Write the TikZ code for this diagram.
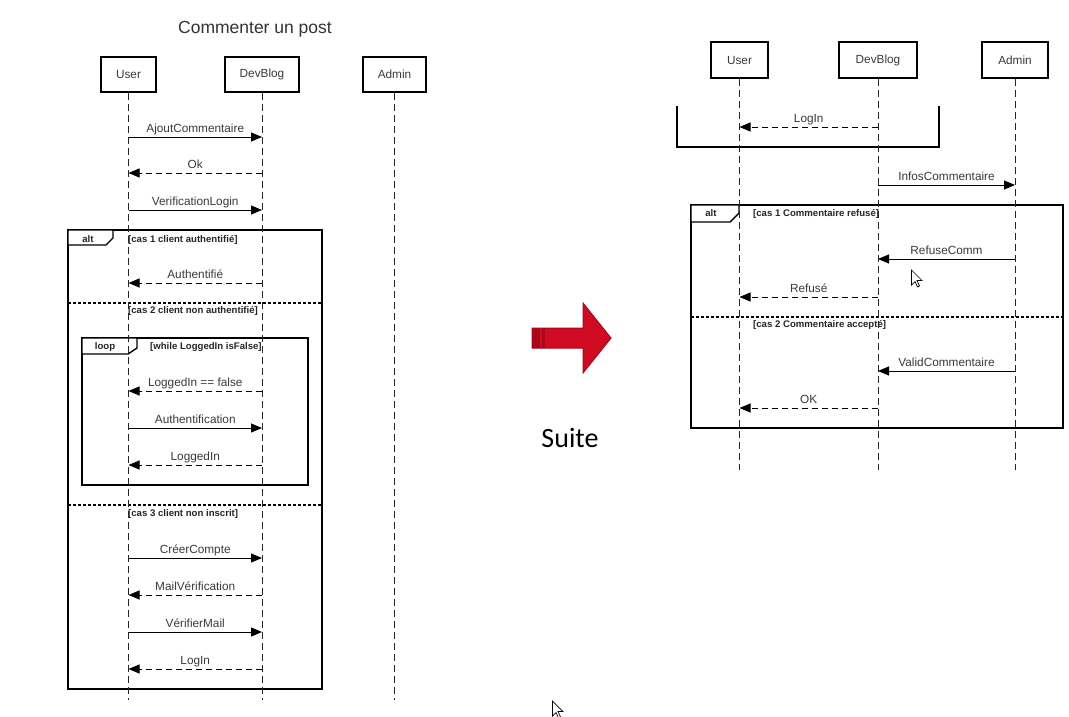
\documentclass[tikz,border=0pt]{standalone}
\usepackage{fontspec}
\setmainfont{Liberation Sans}
\newfontfamily\suitefont{Carlito}
\usetikzlibrary{arrows.meta}
\definecolor{txtgray}{HTML}{3A3A3A}
\definecolor{arrred}{HTML}{D00A22}
\definecolor{arrdark}{HTML}{A50818}
\begin{document}
\begin{tikzpicture}[x=1pt,y=-1pt,
  actor/.style={draw, line width=2pt, inner sep=0pt, font=\fontsize{11.8}{13}\selectfont, text=txtgray},
  life/.style={line width=1pt, dash pattern=on 7pt off 4pt, black!85},
  msg/.style={-{Triangle[length=11pt,width=9pt]}, line width=1pt},
  ret/.style={msg, dash pattern=on 6pt off 4pt},
  lbl/.style={font=\fontsize{11.8}{13}\selectfont, text=txtgray, anchor=base, yshift=5pt, inner sep=0pt},
  frame/.style={line width=1.7pt},
  tab/.style={line width=1.4pt, fill=white},
  sep/.style={line width=1.6pt, dash pattern=on 3pt off 2pt},
  flbl/.style={font=\bfseries\fontsize{9.6}{11}\selectfont, inner sep=0pt, text=black!85},
  cursor/.style={fill=white, draw=black, line width=0.7pt, line join=miter}
]
\useasboundingbox[fill=white] (0,0) rectangle (1069,716);

% ---------- LEFT DIAGRAM ----------
\node[font=\fontsize{17.5}{20}\selectfont, text=black!80] (title) at (255,29) {Commenter un post};

% frames
\draw[frame] (68,230) rectangle (322,689);
\draw[tab] (68,230) -- (113,230) -- (113,238) -- (106,245) -- (68,245) -- cycle;
\node[flbl, anchor=base] (altL) at (88,242) {alt};
\node[flbl, anchor=base west] (c1) at (128,242) {[cas 1 client authentifié]};
\draw[sep] (68,303) -- (322,303);
\node[flbl, anchor=base west] (c2) at (128,313.5) {[cas 2 client non authentifié]};
\draw[frame] (82,338) rectangle (308,485);
\draw[tab] (82,338) -- (137,338) -- (137,348) -- (128,354) -- (82,354) -- cycle;
\node[flbl, anchor=base] (loopL) at (105,349.5) {loop};
\node[flbl, anchor=base west] (wh) at (150,349.5) {[while LoggedIn isFalse]};
\draw[sep] (68,505) -- (322,505);
\node[flbl, anchor=base west] (c3) at (128,516.5) {[cas 3 client non inscrit]};

% actors
\node[actor, minimum width=55pt, minimum height=35pt] (U) at (128.5,74.5) {User};
\node[actor, minimum width=74pt, minimum height=35pt] (D) at (262,74.5) {DevBlog};
\node[actor, minimum width=63pt, minimum height=35pt] (A) at (394.5,74.5) {Admin};
\draw[life] (U.south) -- (U |- 0,700);
\draw[life] (D.south) -- (D |- 0,700);
\draw[life] (A.south) -- (A |- 0,700);

% messages
\draw[msg] (U |- 0,137) -- node[lbl]{AjoutCommentaire} (D |- 0,137);
\draw[ret] (D |- 0,173) -- node[lbl]{Ok} (U |- 0,173);
\draw[msg] (U |- 0,210) -- node[lbl]{VerificationLogin} (D |- 0,210);
\draw[ret] (D |- 0,283) -- node[lbl]{Authentifié} (U |- 0,283);
\draw[ret] (D |- 0,391) -- node[lbl]{LoggedIn == false} (U |- 0,391);
\draw[msg] (U |- 0,428) -- node[lbl]{Authentification} (D |- 0,428);
\draw[ret] (D |- 0,465) -- node[lbl]{LoggedIn} (U |- 0,465);
\draw[msg] (U |- 0,558) -- node[lbl]{CréerCompte} (D |- 0,558);
\draw[ret] (D |- 0,595) -- node[lbl]{MailVérification} (U |- 0,595);
\draw[msg] (U |- 0,632) -- node[lbl]{VérifierMail} (D |- 0,632);
\draw[ret] (D |- 0,669) -- node[lbl]{LogIn} (U |- 0,669);

% ---------- MIDDLE ARROW ----------
\fill[arrred, draw=arrdark, line width=1pt] (532,328) -- (583,328) -- (583,303) -- (611,338) -- (583,373) -- (583,348) -- (532,348) -- cycle;
\fill[arrdark] (532,328.5) rectangle (540,347.5);
\fill[arrdark!85!arrred] (542,328.5) rectangle (545,347.5);
\node[font=\suitefont\fontsize{28}{32}\selectfont, text=black] (suite) at (570,438) {Suite};

% ---------- RIGHT DIAGRAM ----------
\draw[frame] (677,106) -- (677,147) -- (939,147) -- (939,106);
\draw[frame] (691,205) rectangle (1063,428);
\draw[tab] (691,205) -- (739,205) -- (739,213) -- (730,222) -- (691,222) -- cycle;
\node[flbl, anchor=base] (altR) at (711,216) {alt};
\node[flbl, anchor=base west] (r1) at (753,216) {[cas 1 Commentaire refusé]};
\draw[sep] (691,317) -- (1063,317);
\node[flbl, anchor=base west] (r2) at (753,327) {[cas 2 Commentaire accepté]};

\node[actor, minimum width=57pt, minimum height=36pt] (U2) at (739.5,60) {User};
\node[actor, minimum width=78pt, minimum height=36pt] (D2) at (878,60) {DevBlog};
\node[actor, minimum width=66pt, minimum height=36pt] (A2) at (1015,60) {Admin};
\draw[life] (U2.south) -- (U2 |- 0,470);
\draw[life] (D2.south) -- (D2 |- 0,470);
\draw[life] (A2.south) -- (A2 |- 0,470);

\draw[ret] (D2 |- 0,127) -- node[lbl]{LogIn} (U2 |- 0,127);
\draw[msg] (D2 |- 0,185) -- node[lbl]{InfosCommentaire} (A2 |- 0,185);
\draw[msg] (A2 |- 0,259) -- node[lbl]{RefuseComm} (D2 |- 0,259);
\draw[ret] (D2 |- 0,297) -- node[lbl]{Refusé} (U2 |- 0,297);
\draw[msg] (A2 |- 0,371) -- node[lbl]{ValidCommentaire} (D2 |- 0,371);
\draw[ret] (D2 |- 0,408) -- node[lbl]{OK} (U2 |- 0,408);

% cursors
\draw[cursor, shift={(911.5,270)}] (0,0) -- (0,15) -- (3.5,11.5) -- (6,17) -- (8,16) -- (5.5,10.5) -- (10.5,10.5) -- cycle;
\draw[cursor, shift={(552.5,701)}] (0,0) -- (0,15) -- (3.5,11.5) -- (6,17) -- (8,16) -- (5.5,10.5) -- (10.5,10.5) -- cycle;
\end{tikzpicture}
\end{document}
